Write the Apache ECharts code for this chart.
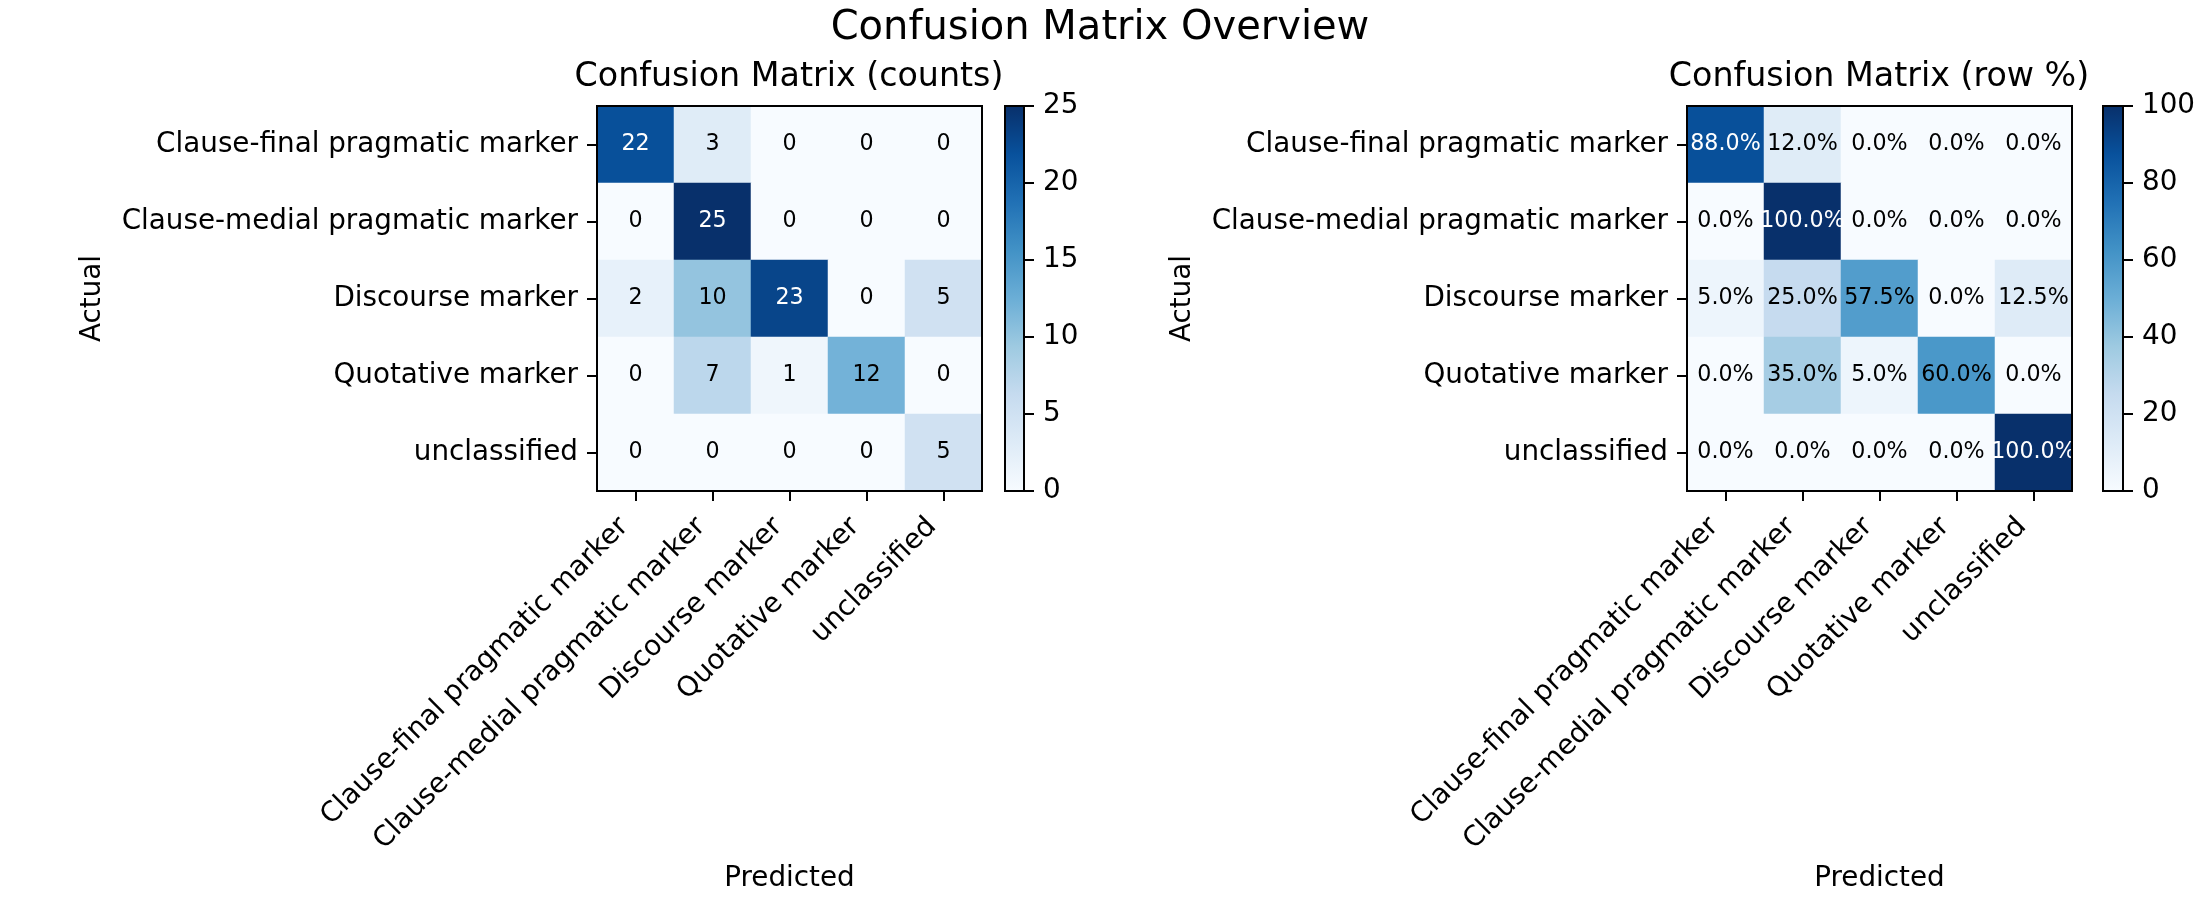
<!DOCTYPE html>
<html>
<head>
<meta charset="utf-8">
<script src="https://cdn.jsdelivr.net/npm/echarts@6/dist/echarts.min.js"></script>
<style>
html,body{margin:0;padding:0;background:#ffffff;}
#chart{width:2200px;height:900px;}
</style>
</head>
<body>
<div id="chart"></div>
<script>
// ---- data ----
const classes = ['Clause-final pragmatic marker', 'Clause-medial pragmatic marker', 'Discourse marker', 'Quotative marker', 'unclassified'];
const countRows = [
  [22, 3, 0, 0, 0],
  [0, 25, 0, 0, 0],
  [2, 10, 23, 0, 5],
  [0, 7, 1, 12, 0],
  [0, 0, 0, 0, 5]
];
const pctRows = [
  [88.0, 12.0, 0.0, 0.0, 0.0],
  [0.0, 100.0, 0.0, 0.0, 0.0],
  [5.0, 25.0, 57.5, 0.0, 12.5],
  [0.0, 35.0, 5.0, 60.0, 0.0],
  [0.0, 0.0, 0.0, 0.0, 100.0]
];
const countTicks = [0, 5, 10, 15, 20, 25];
const pctTicks = [0, 20, 40, 60, 80, 100];
const mainTitle = 'Confusion Matrix Overview';
const leftTitle = 'Confusion Matrix (counts)';
const rightTitle = 'Confusion Matrix (row %)';
const xName = 'Predicted';
const yName = 'Actual';

// ---- style ----
const blues = ['#f7fbff', '#deebf7', '#c6dbef', '#9ecae1', '#6baed6', '#4292c6', '#2171b5', '#08519c', '#08306b'];
const FONT = 'DejaVu Sans';
const TICK_FS = 27.8;
const ANN_FS = 22.2;

function cells(rows, max) {
  const out = [];
  rows.forEach((row, i) => row.forEach((v, j) => {
    out.push({ value: [j, i, v], label: { color: v > max * 0.7 ? '#ffffff' : '#000000' } });
  }));
  return out;
}

const chart = echarts.init(document.getElementById('chart'), null, { renderer: 'canvas' });

const gridBox = { show: true, z: 10, borderColor: '#000000', borderWidth: 2, backgroundColor: 'transparent' };

function catX(gi) {
  return {
    type: 'category', gridIndex: gi, data: classes, position: 'bottom',
    axisLine: { show: true, lineStyle: { color: '#000', width: 2 } },
    axisTick: { show: true, alignWithLabel: true, interval: 0, length: 10, lineStyle: { color: '#000', width: 2 } },
    axisLabel: { interval: 0, rotate: 45, margin: 20, padding: [0, 16, 0, 0], fontSize: TICK_FS, color: '#000', fontFamily: FONT },
    splitLine: { show: false }, splitArea: { show: false },
    name: xName, nameLocation: 'middle', nameGap: 374,
    nameTextStyle: { fontSize: TICK_FS, color: '#000', fontFamily: FONT },
    z: 5
  };
}
function catY(gi) {
  return {
    type: 'category', gridIndex: gi, data: classes, inverse: true, position: 'left',
    axisLine: { show: true, lineStyle: { color: '#000', width: 2 } },
    axisTick: { show: true, alignWithLabel: true, interval: 0, length: 10, lineStyle: { color: '#000', width: 2 } },
    axisLabel: { interval: 0, margin: 19, padding: [5, 0, 0, 0], fontSize: TICK_FS, color: '#000', fontFamily: FONT },
    splitLine: { show: false }, splitArea: { show: false },
    name: yName, nameLocation: 'middle', nameRotate: 90, nameGap: 490,
    nameTextStyle: { fontSize: TICK_FS, color: '#000', fontFamily: FONT },
    z: 5
  };
}
function cbX(gi) {
  return { type: 'category', gridIndex: gi, data: [''], show: false };
}
function cbY(gi, ticks) {
  return {
    type: 'value', gridIndex: gi, position: 'right',
    min: ticks[0], max: ticks[ticks.length - 1], interval: ticks[1] - ticks[0],
    axisLine: { show: false },
    axisTick: { show: true, length: 10, lineStyle: { color: '#000', width: 2 } },
    axisLabel: { margin: 19, fontSize: TICK_FS, color: '#000', fontFamily: FONT },
    splitLine: { show: false }
  };
}
function gradient() {
  return new echarts.graphic.LinearGradient(0, 1, 0, 0, blues.map((c, i) => ({ offset: i / (blues.length - 1), color: c })));
}

const option = {
  animation: false,
  backgroundColor: '#ffffff',
  textStyle: { fontFamily: FONT },
  title: [
    { text: mainTitle, left: 1100, top: 9, textAlign: 'center', padding: 0,
      textStyle: { fontSize: 40, fontWeight: 'normal', color: '#000', fontFamily: FONT } },
    { text: leftTitle, left: 789, top: 61, textAlign: 'center', padding: 0,
      textStyle: { fontSize: 33.3, fontWeight: 'normal', color: '#000', fontFamily: FONT } },
    { text: rightTitle, left: 1879, top: 61, textAlign: 'center', padding: 0,
      textStyle: { fontSize: 33.3, fontWeight: 'normal', color: '#000', fontFamily: FONT } }
  ],
  grid: [
    Object.assign({ left: 597, top: 106, width: 385, height: 385 }, gridBox),
    Object.assign({ left: 1005, top: 106, width: 19, height: 385 }, gridBox),
    Object.assign({ left: 1687, top: 106, width: 385, height: 385 }, gridBox),
    Object.assign({ left: 2103, top: 106, width: 20, height: 385 }, gridBox)
  ],
  xAxis: [catX(0), cbX(1), catX(2), cbX(3)],
  yAxis: [catY(0), cbY(1, countTicks), catY(2), cbY(3, pctTicks)],
  visualMap: [
    { type: 'continuous', show: false, seriesIndex: 0, dimension: 2, min: countTicks[0], max: countTicks[countTicks.length - 1], inRange: { color: blues } },
    { type: 'continuous', show: false, seriesIndex: 2, dimension: 2, min: pctTicks[0], max: pctTicks[pctTicks.length - 1], inRange: { color: blues } }
  ],
  series: [
    {
      type: 'heatmap', xAxisIndex: 0, yAxisIndex: 0, data: cells(countRows, countTicks[countTicks.length - 1]),
      label: { show: true, fontSize: ANN_FS, fontFamily: FONT, formatter: p => String(p.value[2]) },
      emphasis: { disabled: true }, silent: true
    },
    {
      type: 'bar', xAxisIndex: 1, yAxisIndex: 1, data: [countTicks[countTicks.length - 1]], barWidth: '100%',
      itemStyle: { color: gradient() }, silent: true
    },
    {
      type: 'heatmap', xAxisIndex: 2, yAxisIndex: 2, data: cells(pctRows, pctTicks[pctTicks.length - 1]),
      label: { show: true, fontSize: ANN_FS, fontFamily: FONT, formatter: p => p.value[2].toFixed(1) + '%' },
      emphasis: { disabled: true }, silent: true
    },
    {
      type: 'bar', xAxisIndex: 3, yAxisIndex: 3, data: [pctTicks[pctTicks.length - 1]], barWidth: '100%',
      itemStyle: { color: gradient() }, silent: true
    }
  ]
};
chart.setOption(option);
</script>
</body>
</html>
